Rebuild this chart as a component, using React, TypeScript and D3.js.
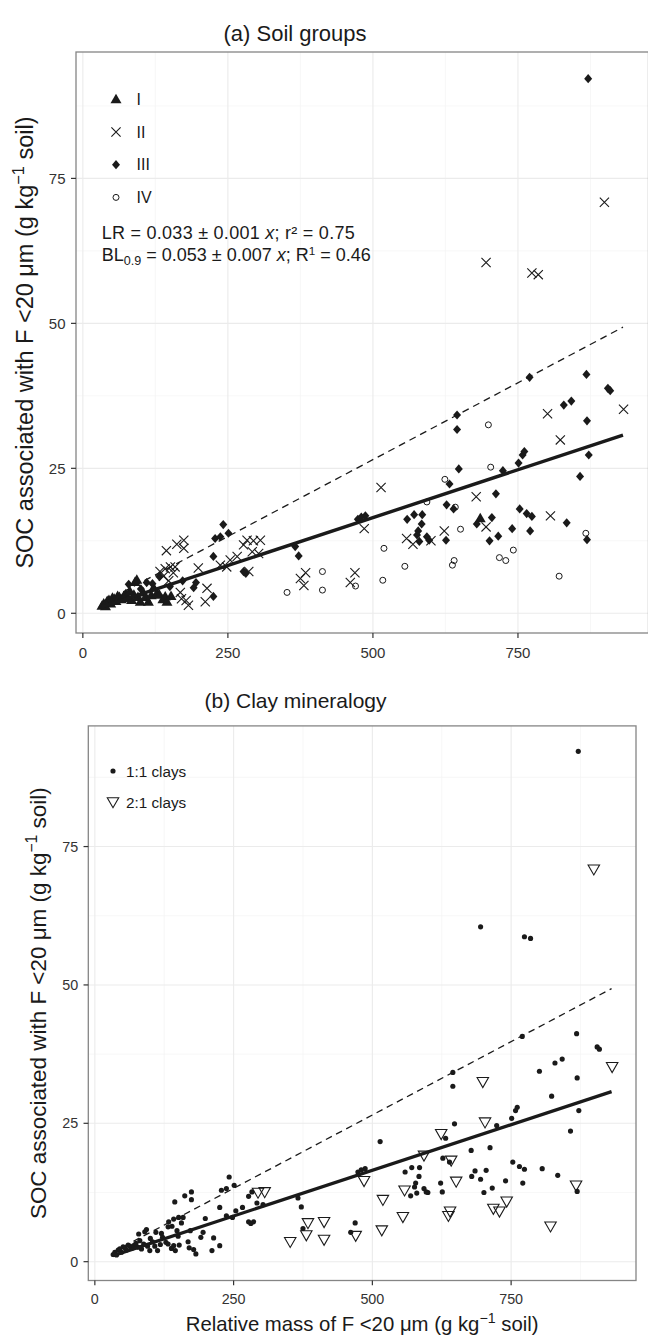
import React from "react";
import * as d3 from "d3";

const xDomain: [number, number] = [-11.8, 975];
const yDomain: [number, number] = [-3.4, 96.8];
const xTicks = [0, 250, 500, 750];
const yTicks = [0, 25, 50, 75];
const xMinor = [125, 375, 625, 875];
const yMinor = [12.5, 37.5, 62.5, 87.5];
const lrSlope = 0.033;
const blSlope = 0.053;
const lineRange = [33, 931];

// [x, y, clay]  clay: 1 => 1:1 clays, 2 => 2:1 clays
const groupI: [number, number, number][] = [
  [33, 1.3, 1], [36, 1.7, 1], [39, 1.2, 1], [42, 2.1, 1], [45, 2.3, 1], [48, 1.7, 1], [51, 2.7, 1],
  [54, 2.5, 1], [57, 2.1, 1], [60, 3.0, 1], [63, 2.8, 1], [66, 2.4, 1], [70, 2.9, 1], [74, 3.3, 1],
  [78, 2.6, 1], [81, 3.8, 1], [84, 2.3, 1], [88, 3.2, 1], [90, 5.4, 1], [93, 5.8, 1], [95, 2.8, 1],
  [99, 2.0, 1], [104, 3.6, 1], [108, 2.8, 1], [113, 2.0, 1], [118, 3.1, 1], [122, 4.4, 1], [128, 3.5, 1],
  [132, 3.2, 1], [138, 2.4, 1], [142, 2.9, 1], [145, 2.0, 1], [152, 3.0, 1], [685, 16.4, 1],
];
const groupII: [number, number, number][] = [
  [695, 60.5, 1], [774, 58.7, 1], [785, 58.4, 1], [801, 34.4, 1], [823, 29.9, 1], [678, 20.1, 1],
  [514, 21.7, 1], [623, 14.2, 1], [695, 14.9, 1], [806, 16.8, 1], [569, 11.9, 1], [600, 12.5, 1],
  [469, 7.0, 1], [461, 5.3, 1], [375, 6.0, 1], [144, 10.8, 1], [162, 11.9, 1], [174, 12.6, 1],
  [174, 11.2, 1], [133, 7.2, 1], [142, 7.7, 1], [151, 8.0, 1], [159, 8.0, 1], [139, 6.4, 1],
  [148, 5.6, 1], [156, 7.0, 1], [168, 3.6, 1], [178, 2.2, 1], [182, 1.4, 1], [170, 2.5, 1],
  [211, 2.0, 1], [214, 4.3, 1], [199, 7.8, 1], [254, 9.2, 1], [266, 9.8, 1], [237, 8.3, 1],
  [248, 8.0, 1], [277, 11.8, 1], [283, 12.6, 1], [286, 7.2, 1], [292, 10.6, 1], [303, 10.3, 1],
  [294, 12.5, 2], [306, 12.6, 2], [485, 14.6, 2], [558, 12.9, 2], [384, 7.0, 2], [381, 4.8, 2],
  [932, 35.2, 2], [899, 70.9, 2],
];
const groupIII: [number, number, number][] = [
  [871, 92.2, 1], [868, 41.2, 1], [770, 40.7, 1], [905, 38.8, 1], [909, 38.4, 1], [829, 35.9, 1],
  [842, 36.6, 1], [869, 33.2, 1], [872, 27.3, 1], [857, 23.6, 1], [834, 15.6, 1], [869, 12.7, 1],
  [645, 34.2, 1], [645, 31.7, 1], [648, 24.9, 1], [632, 22.3, 1], [627, 18.7, 1], [639, 18.0, 1],
  [724, 24.6, 1], [751, 25.9, 1], [758, 27.3, 1], [761, 27.9, 1], [712, 20.6, 1], [753, 18.0, 1],
  [765, 17.2, 1], [774, 16.7, 1], [771, 14.2, 1], [740, 14.6, 1], [705, 16.5, 1], [679, 15.4, 1],
  [701, 12.5, 1], [716, 13.3, 1], [559, 16.2, 1], [571, 17.0, 1], [585, 17.0, 1], [584, 15.4, 1],
  [578, 14.2, 1], [576, 13.5, 1], [580, 12.4, 1], [593, 13.2, 1], [597, 12.6, 1], [626, 12.6, 1],
  [474, 16.2, 1], [480, 16.6, 1], [487, 16.8, 1], [366, 11.5, 1], [372, 9.9, 1], [242, 15.3, 1],
  [228, 12.9, 1], [237, 13.2, 1], [251, 13.8, 1], [225, 9.8, 1], [277, 7.2, 1], [281, 6.9, 1],
  [225, 2.9, 1], [191, 4.4, 1], [195, 5.3, 1], [172, 5.6, 1], [110, 5.3, 1], [79, 5.0, 1],
  [120, 5.1, 1], [132, 6.3, 1], [100, 4.2, 1], [150, 4.6, 1],
];
const groupIV: [number, number, number][] = [
  [352, 3.6, 2], [413, 7.2, 2], [413, 4.0, 2], [470, 4.7, 2], [519, 11.2, 2], [517, 5.7, 2],
  [555, 8.1, 2], [699, 32.5, 2], [703, 25.2, 2], [624, 23.1, 2], [642, 18.3, 2], [593, 19.2, 2],
  [651, 14.5, 2], [640, 9.1, 2], [637, 8.3, 2], [718, 9.6, 2], [729, 9.1, 2], [742, 10.9, 2],
  [821, 6.4, 2], [867, 13.8, 2],
];
const soilLabels = ["I", "II", "III", "IV"];
const clayLabels = ["1:1 clays", "2:1 clays"];

const FONT = "'Liberation Sans', Arial, Helvetica, sans-serif";
const INK = "#1a1a1a";

function Marker({ kind, x, y, k }: { kind: string; x: number; y: number; k: number }) {
  const s = k;
  if (kind === "I")
    return <path d={`M${x},${y - 5.5 * s}L${x + 5.5 * s},${y + 4 * s}L${x - 5.5 * s},${y + 4 * s}Z`} fill={INK} />;
  if (kind === "II")
    return (
      <path
        d={`M${x - 4.6 * s},${y - 4.6 * s}L${x + 4.6 * s},${y + 4.6 * s}M${x - 4.6 * s},${y + 4.6 * s}L${x + 4.6 * s},${y - 4.6 * s}`}
        stroke={INK}
        strokeWidth={1.1}
        fill="none"
      />
    );
  if (kind === "III")
    return <path d={`M${x},${y - 4.6 * s}L${x + 4 * s},${y}L${x},${y + 4.6 * s}L${x - 4 * s},${y}Z`} fill={INK} />;
  if (kind === "IV") return <circle cx={x} cy={y} r={3 * s} fill="none" stroke={INK} strokeWidth={1} />;
  if (kind === "c1") return <circle cx={x} cy={y} r={2.7 * s} fill={INK} />;
  return (
    <path
      d={`M${x - 6 * s},${y - 4.5 * s}L${x + 6 * s},${y - 4.5 * s}L${x},${y + 6 * s}Z`}
      fill="none"
      stroke={INK}
      strokeWidth={1.1}
    />
  );
}

type PanelProps = {
  left: number; right: number; top: number; bottom: number; k: number;
  mode: "soil" | "clay";
  title: [string, string]; titleX: number; titleY: number;
  yTitleX: number; xTitleY?: number;
  legendX: number; legendY: number; legendGap: number; rowH: number;
};

function YTitle({ x, y, size }: { x: number; y: number; size: number }) {
  return (
    <text transform={`translate(${x},${y}) rotate(-90)`} textAnchor="middle" fontSize={size} fontFamily={FONT} fill={INK}>
      {"SOC associated with F <20 μm (g kg"}
      <tspan dy={-size * 0.4} fontSize={size * 0.7}>{"−1"}</tspan>
      <tspan dy={size * 0.4}>{" soil)"}</tspan>
    </text>
  );
}

function Panel(p: PanelProps) {
  const { k } = p;
  const x = d3.scaleLinear().domain(xDomain).range([p.left, p.right]);
  const y = d3.scaleLinear().domain(yDomain).range([p.bottom, p.top]);
  const groups: [string, [number, number, number][]][] = [
    ["I", groupI], ["II", groupII], ["III", groupIII], ["IV", groupIV],
  ];
  const pts: { kind: string; x: number; y: number }[] = [];
  groups.forEach(([g, arr]) =>
    arr.forEach(([vx, vy, c]) =>
      pts.push({ kind: p.mode === "soil" ? g : c === 1 ? "c1" : "c2", x: x(vx), y: y(vy) })
    )
  );
  const line = d3.line<number>().x((d) => x(d)).y((d) => y(d * lrSlope));
  const dline = d3.line<number>().x((d) => x(d)).y((d) => y(d * blSlope));
  const tickFs = 15 * k;
  const legendFs = 16 * k;
  const annFs = 18;
  const legendItems = p.mode === "soil" ? soilLabels : clayLabels;
  const legendKinds = p.mode === "soil" ? soilLabels : ["c1", "c2"];
  const axFs = 23.5 * k;
  return (
    <g>
      <text x={p.titleX} y={p.titleY} textAnchor="middle" fontSize={22 * k} fontFamily={FONT} fill={INK}>
        {p.title[0]} {p.title[1]}
      </text>
      <rect x={p.left} y={p.top} width={p.right - p.left} height={p.bottom - p.top} fill="#fff" />
      {xMinor.map((t) => (
        <line key={"xm" + t} x1={x(t)} x2={x(t)} y1={p.top} y2={p.bottom} stroke="#f4f4f4" strokeWidth={0.7} />
      ))}
      {yMinor.map((t) => (
        <line key={"ym" + t} x1={p.left} x2={p.right} y1={y(t)} y2={y(t)} stroke="#f4f4f4" strokeWidth={0.7} />
      ))}
      {xTicks.map((t) => (
        <line key={"xg" + t} x1={x(t)} x2={x(t)} y1={p.top} y2={p.bottom} stroke="#ebebeb" strokeWidth={1.1} />
      ))}
      {yTicks.map((t) => (
        <line key={"yg" + t} x1={p.left} x2={p.right} y1={y(t)} y2={y(t)} stroke="#ebebeb" strokeWidth={1.1} />
      ))}
      {pts.map((d, i) => (
        <Marker key={i} kind={d.kind} x={d.x} y={d.y} k={k} />
      ))}
      <path d={dline(lineRange) || ""} fill="none" stroke={INK} strokeWidth={1.3} strokeDasharray={`${7 * k},${5 * k}`} />
      <path d={line(lineRange) || ""} fill="none" stroke={INK} strokeWidth={3.4 * k} />
      <rect x={p.left} y={p.top} width={p.right - p.left} height={p.bottom - p.top} fill="none" stroke="#858585" strokeWidth={1.3} />
      {xTicks.map((t) => (
        <g key={"xt" + t}>
          <line x1={x(t)} x2={x(t)} y1={p.bottom} y2={p.bottom + 5 * k} stroke="#333" strokeWidth={1.2} />
          <text x={x(t)} y={p.bottom + 25 * k} textAnchor="middle" fontSize={tickFs} fontFamily={FONT} fill="#333">
            {t}
          </text>
        </g>
      ))}
      {yTicks.map((t) => (
        <g key={"yt" + t}>
          <line x1={p.left - 5 * k} x2={p.left} y1={y(t)} y2={y(t)} stroke="#333" strokeWidth={1.2} />
          <text x={p.left - 10.5 * k} y={y(t) + tickFs * 0.36} textAnchor="end" fontSize={tickFs} fontFamily={FONT} fill="#333">
            {t}
          </text>
        </g>
      ))}
      {legendItems.map((lab, i) => (
        <g key={lab}>
          <Marker kind={legendKinds[i]} x={p.legendX} y={p.legendY + i * p.rowH} k={k} />
          <text x={p.legendX + p.legendGap} y={p.legendY + i * p.rowH + legendFs * 0.36} fontSize={legendFs} fontFamily={FONT} fill={INK}>
            {lab}
          </text>
        </g>
      ))}
      {p.mode === "soil" && (
        <g fontFamily={FONT} fontSize={annFs} fill={INK}>
          <text x={p.left + 25.7} y={p.top + 187.3} textLength={253} lengthAdjust="spacing">
            {"LR = 0.033 ± 0.001 "}
            <tspan fontStyle="italic">x</tspan>
            {"; r² = 0.75"}
          </text>
          <text x={p.left + 25.7} y={p.top + 208.5}>
            {"BL"}
            <tspan fontSize={annFs * 0.7} dy={annFs * 0.25}>0.9</tspan>
            <tspan dy={-annFs * 0.25}>{" = 0.053 ± 0.007 "}</tspan>
            <tspan fontStyle="italic">x</tspan>
            {"; R"}
            <tspan fontSize={annFs * 0.65} dy={-annFs * 0.33}>1</tspan>
            <tspan dy={annFs * 0.33}>{" = 0.46"}</tspan>
          </text>
        </g>
      )}
      <YTitle x={p.yTitleX} y={(p.top + p.bottom) / 2} size={axFs} />
      {p.xTitleY !== undefined && (
        <text x={(p.left + p.right) / 2} y={p.xTitleY} textAnchor="middle" fontSize={21.3 * k} fontFamily={FONT} fill={INK}>
          {"Relative mass of F <20 μm (g kg"}
          <tspan dy={-21.3 * k * 0.4} fontSize={21.3 * k * 0.7}>{"−1"}</tspan>
          <tspan dy={21.3 * k * 0.4}>{" soil)"}</tspan>
        </text>
      )}
    </g>
  );
}

export default function App() {
  return (
    <svg width={648} height={1339} style={{ position: "absolute", left: 0, top: 0, background: "#fff" }}>
      <rect x={0} y={0} width={648} height={1339} fill="#fff" />
      <Panel
        left={76} right={648.5} top={52} bottom={633} k={1} mode="soil"
        title={["(a)", "Soil groups"]} titleX={295} titleY={41}
        yTitleX={33} legendX={116} legendY={99.3} legendGap={20.5} rowH={32.7}
      />
      <Panel
        left={88.3} right={636} top={725.9} bottom={1280.5} k={0.955} mode="clay"
        title={["(b)", "Clay mineralogy"]} titleX={295.5} titleY={708}
        yTitleX={46} xTitleY={1331} legendX={113} legendY={771} legendGap={13} rowH={31}
      />
    </svg>
  );
}
